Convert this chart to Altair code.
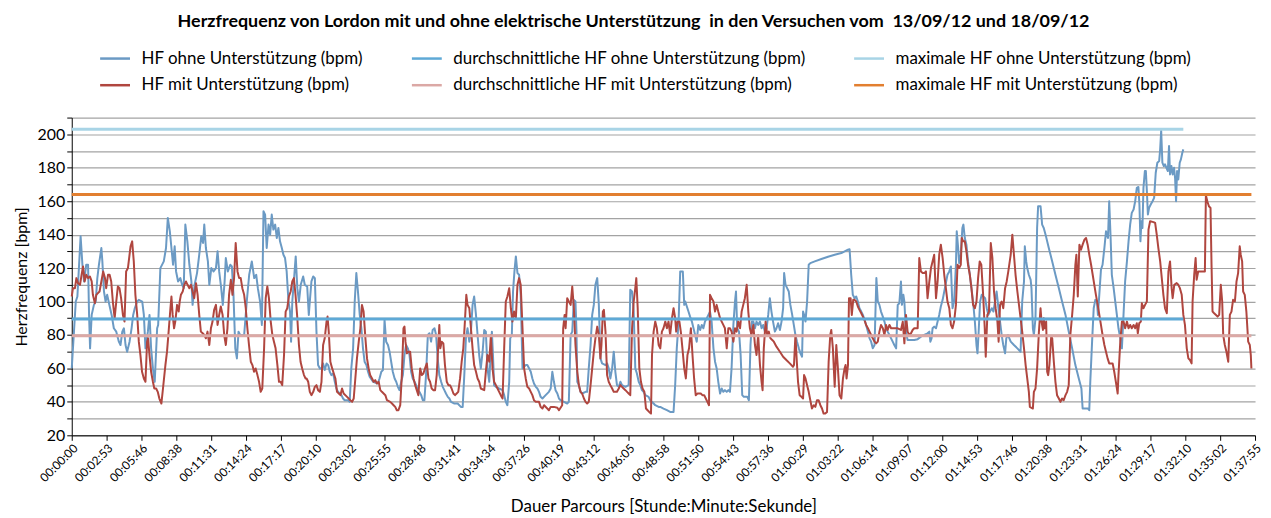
import altair as alt
import pandas as pd

# ---------------- series names / colours ----------------
S_OHNE = "HF ohne Unterstützung (bpm)"
S_MIT = "HF mit Unterstützung (bpm)"
A_OHNE = "durchschnittliche HF ohne Unterstützung (bpm)"
A_MIT = "durchschnittliche HF mit Unterstützung (bpm)"
M_OHNE = "maximale HF ohne Unterstützung (bpm)"
M_MIT = "maximale HF mit Unterstützung (bpm)"

# legend fills column by column (2 rows x 3 columns)
legend_order = [S_OHNE, S_MIT, A_OHNE, A_MIT, M_OHNE, M_MIT]
legend_colors = ["#6b9ac4", "#b0463f", "#5ea9d6", "#dba8a5", "#a8d4e6", "#e27f30"]

# ---------------- x tick labels (hh:mm:ss) ----------------
tick_labels = ["00:00:00", "00:02:53", "00:05:46", "00:08:38", "00:11:31", "00:14:24",
               "00:17:17", "00:20:10", "00:23:02", "00:25:55", "00:28:48", "00:31:41",
               "00:34:34", "00:37:26", "00:40:19", "00:43:12", "00:46:05", "00:48:58",
               "00:51:50", "00:54:43", "00:57:36", "01:00:29", "01:03:22", "01:06:14",
               "01:09:07", "01:12:00", "01:14:53", "01:17:46", "01:20:38", "01:23:31",
               "01:26:24", "01:29:17", "01:32:10", "01:35:02", "01:37:55"]

# ---------------- HF ohne Unterstützung: time [s], bpm ----------------
ohne_t = [0, 20, 28, 44, 53, 61, 72, 81, 86, 91, 99, 110, 119, 127, 135, 147, 152, 160, 168, 176,
          185, 198, 209, 221, 234, 242, 251, 259, 267, 275, 287, 297, 305, 313, 325, 333, 350, 358, 366, 378,
          386, 394, 403, 412, 424, 429, 440, 457, 468, 477, 487, 495, 503, 511, 518, 528, 539, 548, 556, 564,
          574, 584, 594, 600, 610, 622, 633, 643, 652, 658, 666, 676, 683, 693, 704, 716, 724, 732, 742, 750,
          759, 765, 775, 787, 795, 803, 812, 820, 828, 836, 856, 869, 881, 894, 906, 916, 924, 935, 944, 952,
          960, 968, 977, 985, 993, 1001, 1010, 1018, 1026, 1034, 1043, 1051, 1059, 1067, 1076, 1084, 1089, 1095, 1104, 1112,
          1120, 1128, 1137, 1149, 1157, 1169, 1177, 1182, 1190, 1199, 1207, 1215, 1223, 1232, 1240, 1248, 1256, 1265, 1273, 1281,
          1289, 1298, 1306, 1314, 1322, 1331, 1339, 1347, 1355, 1372, 1380, 1388, 1397, 1405, 1413, 1421, 1430, 1438, 1446, 1454,
          1463, 1471, 1479, 1496, 1520, 1528, 1537, 1545, 1553, 1561, 1570, 1578, 1586, 1594, 1603, 1611, 1619, 1627, 1636, 1644,
          1652, 1660, 1669, 1677, 1685, 1693, 1702, 1710, 1718, 1726, 1735, 1743, 1751, 1759, 1768, 1776, 1784, 1792, 1801, 1809,
          1817, 1825, 1834, 1842, 1850, 1858, 1867, 1875, 1883, 1900, 1916, 1932, 1941, 1949, 1957, 1965, 1974, 1982, 1990, 1998,
          2007, 2015, 2023, 2031, 2040, 2048, 2056, 2064, 2073, 2081, 2086, 2092, 2097, 2106, 2122, 2139, 2147, 2155, 2163, 2172,
          2177, 2185, 2191, 2198, 2205, 2213, 2221, 2229, 2238, 2254, 2262, 2271, 2279, 2287, 2295, 2304, 2312, 2320, 2328, 2337,
          2353, 2369, 2378, 2386, 2394, 2402, 2411, 2419, 2427, 2444, 2460, 2468, 2477, 2485, 2493, 2501, 2506, 2510, 2518, 2526,
          2534, 2551, 2559, 2567, 2576, 2584, 2592, 2600, 2609, 2617, 2625, 2633, 2650, 2658, 2666, 2674, 2683, 2691, 2699, 2707,
          2716, 2724, 2732, 2749, 2765, 2773, 2782, 2790, 2798, 2806, 2815, 2823, 2831, 2839, 2848, 2864, 2872, 2881, 2889, 2897,
          2914, 2922, 2938, 2955, 2971, 2988, 2996, 3004, 3013, 3021, 3034, 3041, 3046, 3054, 3062, 3070, 3079, 3087, 3095, 3103,
          3111, 3120, 3128, 3136, 3144, 3153, 3161, 3169, 3177, 3186, 3194, 3202, 3210, 3219, 3227, 3235, 3243, 3252, 3260, 3268,
          3276, 3285, 3293, 3298, 3304, 3313, 3321, 3329, 3337, 3354, 3362, 3370, 3377, 3384, 3392, 3400, 3408, 3417, 3425, 3433,
          3441, 3450, 3458, 3466, 3474, 3482, 3491, 3499, 3507, 3516, 3524, 3532, 3537, 3544, 3552, 3560, 3568, 3577, 3585, 3593,
          3601, 3610, 3618, 3626, 3631, 3636, 3643, 3651, 3659, 3667, 3689, 3722, 3755, 3788, 3821, 3854, 3862, 3870, 3878, 3887,
          3895, 3903, 3911, 3920, 3928, 3936, 3944, 3953, 3961, 3969, 3977, 3986, 3990, 3995, 4002, 4010, 4018, 4027, 4035, 4043,
          4051, 4060, 4068, 4076, 4084, 4093, 4101, 4109, 4117, 4122, 4129, 4134, 4139, 4145, 4150, 4183, 4200, 4216, 4233, 4249,
          4258, 4263, 4269, 4274, 4282, 4291, 4299, 4307, 4315, 4324, 4332, 4340, 4348, 4357, 4365, 4373, 4381, 4390, 4394, 4401,
          4406, 4414, 4422, 4427, 4434, 4442, 4450, 4459, 4467, 4475, 4484, 4492, 4497, 4502, 4510, 4518, 4535, 4543, 4551, 4559,
          4568, 4576, 4584, 4592, 4601, 4609, 4617, 4625, 4634, 4640, 4648, 4662, 4678, 4695, 4711, 4719, 4728, 4732, 4739, 4744,
          4752, 4761, 4765, 4772, 4777, 4785, 4793, 4798, 4810, 4818, 4826, 4835, 4851, 4868, 4884, 4901, 4917, 4934, 4950, 4967,
          4983, 5000, 5013, 5019, 5046, 5052, 5057, 5066, 5074, 5082, 5090, 5095, 5104, 5110, 5118, 5127, 5135, 5140, 5145, 5151,
          5158, 5164, 5173, 5181, 5189, 5197, 5206, 5214, 5222, 5230, 5239, 5247, 5255, 5263, 5272, 5280, 5288, 5296, 5301, 5306,
          5311, 5316, 5321, 5328, 5333, 5338, 5343, 5349, 5357, 5366, 5374, 5382, 5390, 5399, 5404, 5409, 5415, 5422, 5428, 5435,
          5442, 5448, 5453, 5460, 5466, 5473, 5478, 5483, 5488, 5494, 5501, 5507, 5514, 5519]
ohne_v = [60, 100, 103, 139, 122, 112, 122, 122, 92, 72, 92, 98, 100, 114, 122, 132, 124, 106, 100, 104,
          99, 92, 84, 82, 76, 74, 82, 84, 74, 70, 76, 84, 92, 96, 100, 101, 100, 92, 72, 82,
          92, 72, 60, 52, 84, 86, 120, 124, 132, 150, 142, 132, 122, 133, 118, 112, 114, 110, 108, 146,
          136, 122, 112, 98, 110, 117, 128, 139, 135, 146, 132, 124, 110, 120, 118, 120, 130, 118, 108, 98,
          112, 126, 118, 122, 121, 104, 72, 66, 82, 80, 80, 100, 116, 124, 114, 116, 108, 100, 86, 154,
          152, 132, 146, 140, 152, 143, 146, 138, 144, 136, 132, 128, 126, 118, 100, 94, 76, 100, 114, 127,
          108, 100, 110, 115, 110, 109, 92, 100, 112, 115, 114, 82, 62, 60, 60, 63, 59, 63, 62, 58,
          56, 57, 52, 48, 46, 45, 44, 42, 41, 41, 40, 60, 72, 100, 117, 106, 92, 84, 72, 64,
          62, 58, 55, 52, 51, 54, 58, 59, 89, 76, 74, 70, 64, 58, 54, 52, 49, 47, 52, 56,
          68, 74, 72, 68, 58, 54, 52, 50, 47, 46, 44, 41, 41, 56, 80, 81, 76, 83, 84, 80,
          66, 56, 52, 49, 47, 45, 43, 42, 40, 39, 39, 37, 37, 56, 78, 84, 76, 82, 98, 103,
          92, 80, 68, 60, 70, 83, 82, 60, 52, 72, 82, 66, 50, 49, 48, 47, 44, 40, 38, 52,
          78, 80, 106, 118, 127, 117, 116, 104, 60, 62, 62, 60, 58, 54, 51, 49, 48, 46, 43, 42,
          44, 46, 48, 58, 52, 47, 45, 42, 41, 40, 39, 40, 80, 82, 101, 100, 82, 52, 50, 46,
          45, 46, 46, 60, 74, 92, 98, 110, 114, 98, 66, 63, 62, 63, 60, 54, 60, 70, 58, 50,
          49, 52, 50, 49, 50, 107, 106, 94, 60, 57, 52, 50, 47, 46, 44, 43, 41, 40, 39, 38,
          37, 37, 36, 35, 34, 34, 50, 72, 88, 118, 118, 98, 100, 97, 94, 91, 88, 84, 80, 76,
          86, 83, 86, 84, 88, 90, 92, 94, 88, 72, 64, 60, 52, 45, 48, 46, 47, 46, 47, 46,
          60, 86, 100, 106, 84, 82, 68, 44, 43, 43, 41, 74, 88, 88, 84, 88, 86, 88, 84, 86,
          82, 84, 92, 102, 94, 88, 82, 84, 87, 83, 88, 96, 117, 110, 108, 106, 98, 92, 86, 80,
          76, 72, 69, 67, 94, 92, 88, 100, 122, 123, 124, 125.4, 126.8, 128, 129, 131, 131.3, 116, 104, 102,
          103, 100, 96, 94, 92, 89, 86, 82, 78, 76, 72, 74, 92, 114, 100, 98, 94, 91, 88, 84,
          82, 80, 78, 76, 74, 72, 98, 99, 112, 98, 104, 100, 88, 80, 77, 77, 77.5, 79, 80, 81,
          82, 76, 78, 84, 85, 84, 88, 92, 97, 101, 106, 111, 116, 118, 121, 96, 100, 122, 142, 132,
          123, 128, 144, 146, 138, 134, 124, 116, 108, 100, 88, 74, 69, 80, 100, 104, 102, 96, 92, 94,
          96, 94, 100, 106, 96, 88, 80, 74, 69, 78, 80, 76, 74, 72, 70, 100, 112, 133, 124, 120,
          116, 113, 108, 84, 80, 90, 144, 157, 157, 146, 144, 140, 132, 124, 116, 108, 100, 92, 82, 72,
          62, 54, 48, 36, 36, 35, 52, 76, 96, 101, 100, 92, 108, 119, 122, 132, 142, 140, 138, 160,
          138, 116, 108, 100, 92, 84, 78, 72, 92, 112, 124, 136, 146, 153, 155, 160, 168, 168.5, 158, 136,
          148, 144, 168, 178, 178, 166, 152, 156, 158, 160, 162, 177, 183, 184, 191, 202.3, 183, 181, 182, 180,
          178, 193, 176, 181, 176, 180, 174, 160, 178, 173, 183, 185, 189, 191]

# ---------------- HF mit Unterstützung: time [s], bpm ----------------
mit_t = [0, 6, 16, 23, 31, 41, 49, 56, 64, 72, 81, 90, 99, 105, 115, 122, 130, 138, 147, 156,
         165, 171, 180, 188, 196, 204, 213, 221, 229, 237, 245, 254, 262, 270, 279, 283, 292, 300, 308, 316,
         325, 333, 341, 349, 358, 366, 374, 379, 386, 394, 403, 410, 419, 427, 435, 445, 453, 465, 473, 481,
         490, 495, 501, 508, 514, 523, 531, 536, 542, 551, 559, 567, 575, 584, 592, 600, 608, 617, 625, 633,
         641, 650, 658, 666, 674, 683, 691, 699, 707, 716, 724, 732, 740, 749, 757, 765, 773, 781, 790, 798,
         806, 814, 823, 831, 839, 847, 856, 864, 872, 880, 889, 897, 905, 913, 922, 930, 938, 946, 955, 963,
         971, 979, 988, 996, 1004, 1012, 1021, 1029, 1037, 1045, 1054, 1062, 1070, 1078, 1087, 1095, 1103, 1111, 1120, 1128,
         1136, 1144, 1153, 1161, 1166, 1174, 1182, 1190, 1199, 1207, 1215, 1223, 1232, 1240, 1248, 1256, 1265, 1270, 1276, 1284,
         1293, 1301, 1309, 1317, 1326, 1334, 1342, 1350, 1367, 1375, 1383, 1392, 1400, 1408, 1416, 1425, 1433, 1441, 1449, 1458,
         1466, 1474, 1482, 1491, 1499, 1507, 1515, 1524, 1532, 1540, 1557, 1565, 1581, 1590, 1598, 1606, 1614, 1622, 1631, 1639,
         1647, 1652, 1657, 1664, 1672, 1680, 1688, 1697, 1705, 1713, 1721, 1730, 1738, 1746, 1754, 1763, 1771, 1779, 1787, 1796,
         1804, 1812, 1820, 1825, 1830, 1837, 1845, 1853, 1862, 1870, 1878, 1886, 1895, 1903, 1911, 1919, 1928, 1936, 1944, 1952,
         1959, 1965, 1974, 1982, 1990, 1998, 2007, 2015, 2023, 2031, 2048, 2056, 2064, 2073, 2081, 2089, 2097, 2106, 2114, 2122,
         2130, 2139, 2147, 2155, 2163, 2172, 2180, 2188, 2196, 2205, 2213, 2221, 2229, 2238, 2246, 2254, 2262, 2271, 2279, 2287,
         2295, 2304, 2320, 2328, 2337, 2345, 2361, 2369, 2378, 2394, 2411, 2419, 2427, 2435, 2440, 2447, 2452, 2460, 2468, 2477,
         2485, 2493, 2501, 2510, 2518, 2526, 2534, 2543, 2551, 2559, 2567, 2576, 2584, 2592, 2600, 2609, 2617, 2625, 2630, 2637,
         2642, 2650, 2658, 2666, 2674, 2683, 2691, 2707, 2716, 2724, 2732, 2740, 2749, 2757, 2765, 2773, 2782, 2790, 2798, 2803,
         2810, 2818, 2826, 2834, 2843, 2851, 2859, 2867, 2876, 2881, 2889, 2897, 2905, 2914, 2922, 2930, 2938, 2947, 2955, 2963,
         2971, 2980, 2988, 2996, 3001, 3008, 3017, 3024, 3032, 3041, 3049, 3057, 3065, 3074, 3082, 3090, 3098, 3107, 3123, 3131,
         3140, 3148, 3156, 3164, 3169, 3177, 3186, 3194, 3202, 3210, 3219, 3227, 3235, 3243, 3252, 3260, 3268, 3276, 3285, 3293,
         3301, 3309, 3318, 3326, 3334, 3342, 3351, 3359, 3367, 3375, 3384, 3392, 3400, 3408, 3417, 3425, 3430, 3436, 3445, 3453,
         3461, 3469, 3478, 3486, 3499, 3516, 3532, 3548, 3565, 3581, 3586, 3593, 3600, 3606, 3614, 3623, 3631, 3636, 3643, 3651,
         3659, 3667, 3675, 3684, 3692, 3700, 3708, 3717, 3725, 3733, 3741, 3750, 3758, 3766, 3771, 3779, 3788, 3796, 3804, 3812,
         3821, 3829, 3837, 3842, 3847, 3854, 3859, 3867, 3873, 3880, 3887, 3895, 3903, 3911, 3920, 3928, 3936, 3944, 3953, 3961,
         3969, 3977, 3986, 3994, 4002, 4010, 4018, 4027, 4035, 4043, 4051, 4060, 4068, 4101, 4117, 4126, 4134, 4142, 4150, 4159,
         4167, 4175, 4183, 4200, 4208, 4216, 4225, 4233, 4241, 4249, 4258, 4266, 4274, 4282, 4291, 4299, 4307, 4315, 4324, 4332,
         4340, 4348, 4357, 4365, 4373, 4381, 4390, 4398, 4406, 4414, 4419, 4426, 4434, 4442, 4450, 4459, 4467, 4475, 4484, 4492,
         4500, 4508, 4516, 4525, 4533, 4538, 4546, 4554, 4563, 4571, 4579, 4587, 4596, 4602, 4609, 4617, 4625, 4634, 4642, 4650,
         4662, 4670, 4678, 4686, 4695, 4703, 4711, 4719, 4728, 4736, 4744, 4752, 4757, 4772, 4777, 4785, 4793, 4802, 4810, 4815,
         4822, 4826, 4831, 4838, 4843, 4848, 4854, 4863, 4868, 4876, 4884, 4892, 4901, 4909, 4917, 4925, 4934, 4942, 4950, 4958,
         4967, 4975, 4983, 4988, 4995, 5003, 5011, 5019, 5028, 5036, 5044, 5052, 5061, 5069, 5077, 5085, 5094, 5102, 5110, 5118,
         5127, 5135, 5143, 5151, 5168, 5176, 5184, 5193, 5197, 5206, 5214, 5222, 5230, 5239, 5247, 5255, 5263, 5272, 5280, 5288,
         5293, 5300, 5308, 5313, 5321, 5329, 5338, 5346, 5354, 5371, 5379, 5387, 5395, 5404, 5412, 5420, 5428, 5437, 5445, 5453,
         5461, 5466, 5474, 5486, 5494, 5502, 5511, 5519, 5527, 5536, 5544, 5552, 5560, 5565, 5573, 5580, 5585, 5593, 5626, 5631,
         5638, 5646, 5654, 5659, 5664, 5672, 5689, 5697, 5705, 5712, 5717, 5725, 5733, 5742, 5750, 5758, 5766, 5775, 5783, 5791,
         5799, 5804, 5811, 5816, 5824, 5832, 5841, 5849, 5854, 5857]
mit_v = [103, 108, 108, 114, 111, 110, 116, 121, 112, 116, 114, 115, 112, 104, 99, 104, 105, 106, 112, 118,
         114, 108, 116, 116, 112, 100, 90, 100, 109, 108, 102, 92, 88, 118, 120, 124, 133, 136, 124, 104,
         92, 76, 68, 58, 54, 52, 76, 78, 68, 58, 52, 48, 48, 46, 42, 39, 48, 62, 70, 82,
         96, 103, 92, 84, 88, 98, 94, 100, 104, 106, 110, 112, 110, 108, 110, 106, 102, 111, 104, 92,
         82, 81, 80, 78, 82, 74, 84, 88, 95, 98, 86, 92, 97, 92, 80, 74, 84, 104, 113, 104,
         114, 135, 118, 114, 114, 108, 104, 96, 84, 74, 64, 62, 58, 60, 56, 52, 46, 48, 72, 102,
         109, 102, 88, 80, 76, 72, 62, 52, 52, 50, 68, 94, 96, 103, 106, 112, 114, 104, 90, 74,
         64, 60, 56, 54, 54, 52, 46, 44, 46, 49, 50, 47, 46, 52, 74, 78, 88, 91, 82, 64,
         60, 57, 54, 46, 45, 44, 48, 45, 43, 42, 41, 40, 42, 54, 66, 76, 84, 98, 94, 78,
         66, 60, 56, 54, 52, 53, 51, 52, 47, 46, 44, 41, 40, 39, 38, 37, 35, 35, 38, 56,
         84, 85, 76, 69, 70, 70, 60, 54, 50, 47, 44, 60, 56, 57, 60, 63, 54, 52, 48, 47,
         47, 56, 74, 86, 72, 76, 75, 62, 52, 50, 50, 48, 45, 44, 45, 46, 54, 64, 72, 88,
         104, 98, 96, 84, 72, 62, 58, 54, 52, 48, 47, 58, 68, 64, 80, 60, 52, 50, 48, 46,
         44, 42, 72, 100, 103, 108, 96, 88, 94, 90, 110, 114, 110, 84, 60, 54, 49, 48, 46, 44,
         41, 40, 40, 37, 36, 38, 36, 35, 37, 37, 36.5, 35, 36.5, 38, 84, 92, 84, 102, 100, 98,
         109, 96, 74, 58, 50, 46, 45, 42, 40, 39, 40, 50, 60, 70, 78, 85, 80, 66, 74, 94,
         95, 82, 56, 52, 50, 48, 46, 46, 48, 50, 49, 48, 47, 46, 45, 44, 84, 100, 108, 114,
         96, 60, 52, 48, 46, 36, 35, 34, 33, 68, 82, 88, 84, 74, 72, 82, 84, 88, 84, 88,
         80, 90, 96, 90, 82, 88, 88, 82, 72, 60, 54, 68, 72, 84, 68, 54, 44, 45, 45, 44,
         44, 42, 40, 38, 104, 102, 100, 94, 98, 94, 90, 88, 86, 84, 72, 84, 84, 82, 76, 84,
         82, 88, 84, 94, 98, 102, 110, 94, 84, 80, 86, 74, 68, 80, 62, 52, 47, 72, 88, 80,
         82, 78, 77, 76, 73, 70, 67, 65, 63, 61, 62, 80, 64, 52, 44, 43, 42, 56, 54, 50,
         46, 41, 36, 38, 37, 41, 41, 38, 36, 33, 33, 34, 64, 80, 83, 72, 49, 74, 60, 44,
         42, 54, 60, 62, 54, 62, 102, 102, 92, 101, 101, 100, 97, 95, 93, 91, 89, 86, 84, 82,
         80, 78, 76, 75, 76, 82, 86, 84, 80, 86, 83, 86, 84, 84, 83, 88, 75, 92, 82, 80,
         81, 83, 84, 84, 126, 118, 117, 117, 118, 102, 112, 120, 124, 128, 102, 112, 128, 134, 126, 116,
         108, 100, 96, 86, 84, 88, 98, 122, 120, 122, 138, 136, 136, 130, 122, 116, 108, 98, 96, 100,
         114, 124, 122, 104, 84, 67, 92, 94, 135, 126, 106, 96, 88, 76, 98, 100, 96, 108, 112, 118,
         128, 140, 128, 116, 106, 98, 90, 82, 72, 62, 54, 46, 37, 36, 46, 48, 60, 82, 96, 88,
         83, 90, 84, 88, 58, 56, 62, 79, 78, 64, 52, 44, 42, 40, 42, 41, 44, 46, 50, 80,
         92, 104, 122, 128, 103, 134, 131, 134, 137, 138, 134, 128, 122, 116, 110, 104, 98, 92, 86, 80,
         74, 70, 66, 63, 63, 58, 52, 45, 56, 76, 88, 88, 84, 88, 84, 86, 84, 86, 84, 87,
         81, 87, 88, 99, 96, 98, 100, 143, 148, 147.5, 147, 140, 132, 124, 114, 104, 96, 93, 118, 124,
         108, 102, 110, 111, 110, 108, 104, 92, 86, 72, 66, 65, 63, 100, 116, 126, 113, 118, 118, 163.5,
         160, 157, 156, 122, 94, 93, 91, 92, 110, 100, 80, 74, 70, 64, 92, 94, 101, 100, 112, 117,
         133, 128, 124, 106, 104, 94, 76, 74, 68, 60]

# ---------------- average / maximum reference lines ----------------
ref_names = [A_OHNE, A_MIT, M_OHNE, M_MIT]
ref_values = [89.5, 79.5, 203, 164]
ref_end = [5519, 5857, 5519, 5857]

# ---------------- build tables ----------------
def to_sec(s):
    h, m, sec = s.split(":")
    return int(h) * 3600 + int(m) * 60 + int(sec)

tick_secs = [to_sec(s) for s in tick_labels]

df_ohne = pd.DataFrame({"t": ohne_t, "v": ohne_v, "series": S_OHNE})
df_mit = pd.DataFrame({"t": mit_t, "v": mit_v, "series": S_MIT})
ref_rows = []
for name, val, end in zip(ref_names, ref_values, ref_end):
    ref_rows.append({"t": 0, "v": val, "series": name})
    ref_rows.append({"t": end, "v": val, "series": name})
df_ref = pd.DataFrame(ref_rows)

FONT = "Lato"

label_expr_x = ("slice('0' + floor(round(datum.value) / 3600), -2) + ':' + "
                "slice('0' + floor((round(datum.value) % 3600) / 60), -2) + ':' + "
                "slice('0' + (round(datum.value) % 60), -2)")

x_enc = alt.X("t:Q",
              scale=alt.Scale(domain=[0, tick_secs[-1]], nice=False, zero=False),
              axis=alt.Axis(values=tick_secs, labelExpr=label_expr_x, labelAngle=-45,
                            labelOverlap=False, labelFontSize=12, labelColor="#000000",
                            labelPadding=2, tickSize=5, tickColor="#000000",
                            domainColor="#000000", grid=False,
                            title="Dauer Parcours [Stunde:Minute:Sekunde]",
                            titleFontSize=17, titleFontWeight="normal", titleColor="#000000",
                            titlePadding=15))
y_enc = alt.Y("v:Q",
              scale=alt.Scale(domain=[20, 210], nice=False, zero=False),
              axis=alt.Axis(values=list(range(20, 211, 10)),
                            labelExpr="datum.value % 20 == 0 && datum.value <= 200 ? datum.label : ''",
                            labelFontSize=16, labelColor="#000000", labelPadding=2,
                            tickSize=5, tickColor="#000000", domainColor="#000000",
                            grid=True, gridColor="#a3a3a3", gridWidth=1.2,
                            title="Herzfrequenz [bpm]", titleFontSize=16,
                            titleFontWeight="normal", titleColor="#000000", titlePadding=8))

color_enc = alt.Color("series:N",
                      scale=alt.Scale(domain=legend_order, range=legend_colors),
                      sort=legend_order,
                      legend=alt.Legend(orient="none", legendX=27, legendY=-76, columns=3,
                                        title=None, symbolType="stroke", symbolSize=900,
                                        symbolStrokeWidth=2.5, labelFontSize=17,
                                        labelFont=FONT, labelLimit=0, labelColor="#000000",
                                        columnPadding=43, rowPadding=2, labelOffset=10))

line_ohne = alt.Chart(df_ohne).mark_line(strokeWidth=2, strokeJoin="round").encode(
    x=x_enc, y=y_enc, color=color_enc)
line_mit = alt.Chart(df_mit).mark_line(strokeWidth=2, strokeJoin="round").encode(
    x=x_enc, y=y_enc, color=color_enc)
refs = alt.Chart(df_ref).mark_line(strokeWidth=3).encode(
    x=x_enc, y=y_enc, color=color_enc, detail="series:N")

chart = alt.layer(line_ohne, line_mit, refs).properties(
    width=1188, height=319,
    autosize=alt.AutoSizeParams(type="none"),
    padding={"left": 64, "top": 109, "right": 8, "bottom": 82},
    title=alt.TitleParams(
        "Herzfrequenz von Lordon mit und ohne elektrische Unterstützung\u00a0 in den Versuchen vom\u00a0 13/09/12 und 18/09/12",
        fontSize=18, fontWeight="bold", font=FONT, color="#000000", anchor="middle",
        offset=11, dx=-30)
).configure(font=FONT).configure_view(stroke=None)

chart.save("out.html", embed_options={"renderer": "svg", "actions": False})
